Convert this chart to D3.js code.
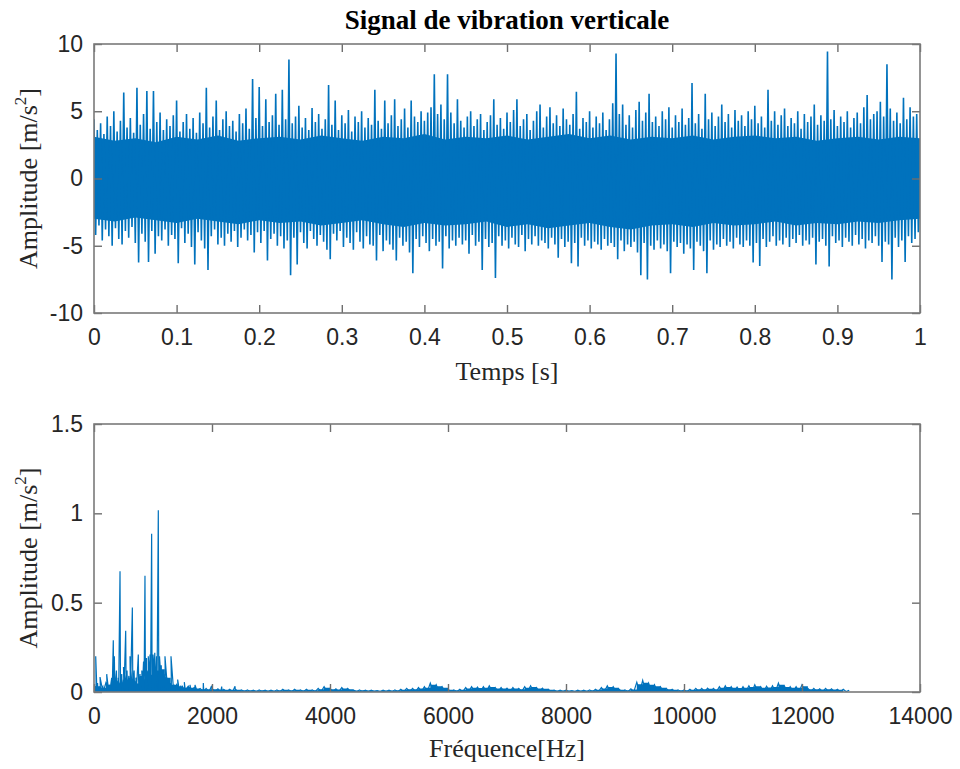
<!DOCTYPE html>
<html lang="fr">
  <head>
    <meta charset="utf-8">
    <title>Signal de vibration verticale</title>
    <script src="https://cdn.jsdelivr.net/npm/d3@7"></script>
    <style>
      body { margin: 0; background: #fff; }
      .axis line { stroke: #6e6e6e; stroke-width: 1.4; }
      .axis path { display: none; }
      .axis text {
        font-family: "Liberation Sans", Arial, sans-serif;
        font-size: 23px;
        fill: #262626;
      }
      .box { fill: none; stroke: #7a7a7a; stroke-width: 1.6; }
      .label {
        font-family: "Liberation Serif", "Times New Roman", serif;
        font-size: 26px;
        fill: #262626;
      }
      .title { font-weight: bold; font-size: 27px; fill: #000; }
    </style>
  </head>
  <body>
    <script>

    //Tick labels
    var timeTicks = [0, 0.1, 0.2, 0.3, 0.4, 0.5, 0.6, 0.7, 0.8, 0.9, 1];
    var ampTicks = [-10, -5, 0, 5, 10];
    var freqTicks = [0, 2000, 4000, 6000, 8000, 10000, 12000, 14000];
    var specTicks = [0, 0.5, 1, 1.5];

    //Time signal: peak (sigHi) and trough (sigLo) per 0.004 s slot
    var binWidth = 0.004;
    var sigHi = [
      4.4, 3.6, 4.1, 3.3, 4.6, 3.9, 5.0, 3.5, 4.3, 6.4,
      3.8, 4.5, 3.4, 6.75, 4.0, 4.8, 6.5, 3.7, 6.5, 4.2,
      4.9, 3.6, 4.4, 3.9, 4.7, 5.8, 3.5, 4.2, 4.8, 3.7,
      4.5, 3.4, 4.9, 4.1, 6.75, 3.8, 4.6, 5.8, 3.6, 4.4,
      5.0, 3.9, 4.3, 3.5, 4.8, 4.1, 5.2, 3.7, 7.4, 4.5,
      6.8, 3.9, 5.9, 4.2, 4.7, 6.3, 4.0, 6.6, 4.4, 8.85,
      4.1, 4.6, 5.4, 3.8, 4.5, 3.6, 5.25, 4.2, 4.8, 3.7,
      4.4, 6.95, 4.0, 5.8, 3.6, 4.7, 4.1, 5.1, 3.5, 4.6,
      4.2, 5.0, 3.8, 4.5, 4.0, 6.6, 4.3, 3.7, 5.8, 4.1,
      4.7, 5.9, 3.9, 4.4, 5.2, 3.8, 5.8, 4.6, 4.2, 5.0,
      4.3, 4.9, 5.3, 7.75, 4.8, 5.5, 4.4, 7.75, 4.9, 4.1,
      5.9, 4.3, 3.8, 4.6, 5.0, 3.9, 4.4, 4.8, 3.6, 4.2,
      4.7, 5.9, 4.0, 4.5, 3.7, 4.9, 4.2, 5.1, 5.9, 3.9,
      4.4, 4.8, 3.6, 4.3, 5.0, 5.5, 3.8, 4.6, 5.3, 4.1,
      4.7, 3.9, 5.2, 4.4, 4.0, 4.8, 6.45, 3.7, 4.5, 4.2,
      5.0, 3.8, 4.6, 4.1, 4.9, 3.6, 4.4, 5.6, 9.3, 4.8,
      5.5, 4.0, 4.7, 3.8, 5.1, 5.7, 4.3, 4.9, 6.3, 4.2,
      4.6, 3.9, 5.0, 4.4, 5.3, 3.8, 4.7, 4.2, 5.2, 4.0,
      4.5, 7.1, 4.1, 4.8, 3.7, 6.3, 4.4, 4.9, 3.9, 4.6,
      5.5, 4.2, 4.8, 3.8, 5.1, 4.3, 4.7, 3.9, 5.0, 4.4,
      5.4, 4.1, 4.6, 3.8, 6.6, 4.3, 5.0, 4.0, 4.7, 5.2,
      3.9, 4.5, 4.1, 5.0, 3.7, 4.8, 4.2, 4.6, 5.5, 4.0,
      4.7, 4.3, 9.45, 4.4, 5.1, 3.9, 4.6, 4.2, 5.0, 3.8,
      4.5, 4.9, 4.1, 5.3, 6.2, 4.4, 4.8, 5.0, 5.7, 4.6,
      8.5, 5.2, 4.3, 4.9, 4.1, 6.0, 4.4, 5.3, 4.6, 4.8
    ];
    var sigLo = [
      -4.2, -3.5, -4.6, -3.8, -4.3, -5.0, -3.7, -4.5, -4.9, -3.9,
      -4.4, -3.6, -4.8, -6.25, -4.1, -4.7, -6.2, -3.9, -5.6, -4.3,
      -4.6, -3.8, -5.0, -4.2, -4.5, -6.3, -3.7, -4.8, -4.1, -5.1,
      -6.4, -4.0, -4.6, -5.2, -6.8, -4.3, -3.8, -4.9, -4.4, -5.0,
      -4.1, -4.7, -3.9, -5.1, -4.4, -3.8, -4.6, -4.2, -5.5, -4.0,
      -4.8, -3.9, -6.1, -4.5, -4.1, -5.0, -4.3, -5.2, -4.6, -7.2,
      -4.4, -6.4, -4.0, -4.8, -5.2, -3.9, -4.5, -5.0, -4.2, -4.7,
      -5.3, -6.0, -4.1, -4.6, -3.9, -5.1, -4.4, -4.8, -5.3, -4.0,
      -4.7, -5.2, -4.3, -4.9, -5.0, -6.1, -4.2, -5.4, -4.6, -4.9,
      -5.3, -6.1, -4.4, -5.0, -4.7, -5.5, -7.05, -4.5, -5.1, -4.3,
      -4.8, -5.4, -4.5, -5.0, -4.7, -6.7, -4.3, -5.2, -4.6, -5.0,
      -4.4, -4.9, -4.6, -5.6, -4.2, -5.0, -4.7, -6.8, -4.5, -5.1,
      -4.8, -7.4, -4.3, -5.0, -4.6, -5.2, -4.4, -4.9, -5.1, -4.2,
      -5.4, -4.5, -4.9, -4.3, -5.0, -4.6, -4.8, -5.2, -4.4, -4.9,
      -5.9, -4.5, -5.1, -4.7, -6.3, -4.8, -6.55, -4.4, -5.0, -4.6,
      -5.2, -4.7, -4.9, -5.3, -4.5, -5.0, -4.8, -5.1, -6.0, -4.6,
      -5.4, -4.9, -5.1, -4.7, -5.5, -7.2, -4.8, -7.5, -5.0, -5.3,
      -4.6, -5.2, -4.9, -5.4, -7.05, -4.7, -5.1, -4.8, -5.6, -4.9,
      -5.2, -6.8, -4.7, -5.0, -5.4, -7.05, -4.6, -5.3, -4.9, -5.1,
      -4.5, -5.0, -4.7, -5.2, -4.4, -4.9, -5.1, -4.6, -5.0, -6.25,
      -4.8, -6.5, -4.5, -5.1, -4.7, -4.3, -5.0, -4.6, -4.9, -4.4,
      -5.1, -4.5, -4.8, -4.2, -5.0, -4.6, -4.9, -4.4, -6.4, -4.7,
      -4.5, -5.0, -6.55, -4.3, -4.8, -4.6, -5.1, -4.4, -4.7, -5.0,
      -4.2, -4.9, -4.5, -5.2, -4.6, -4.8, -4.3, -5.0, -6.2, -4.7,
      -4.9, -7.5, -4.4, -5.1, -4.6, -6.2, -4.3, -4.8, -4.5, -4.0
    ];

    //Time signal: edges of the solid dense band, every 0.025 s
    var coreStep = 0.025;
    var coreHi = [3.1, 2.8, 3.0, 2.7, 3.1, 2.9, 3.2, 2.8, 3.0, 3.1,
      2.9, 3.2, 3.0, 2.8, 3.1, 3.0, 3.3, 2.9, 3.1, 3.0,
      3.2, 2.9, 3.1, 3.3, 3.0, 3.2, 2.9, 3.1, 3.0, 3.2,
      2.9, 3.1, 3.2, 3.0, 3.1, 2.8, 3.0, 3.1, 2.9, 3.1, 3.0];
    var coreLo = [-3.0, -3.2, -2.9, -3.1, -3.3, -3.0, -3.2, -3.4, -3.1, -3.3,
      -3.2, -3.5, -3.3, -3.1, -3.4, -3.6, -3.3, -3.5, -3.4, -3.2,
      -3.6, -3.4, -3.7, -3.5, -3.3, -3.6, -3.8, -3.5, -3.4, -3.6,
      -3.3, -3.5, -3.4, -3.2, -3.5, -3.3, -3.4, -3.2, -3.3, -3.1, -3.0];

    //Spectrum: discrete lines below 2.5 kHz
    var peakFreq = [29, 60, 102, 150, 215, 260, 300, 327, 345, 380,
      410, 441, 470, 500, 537, 560, 590, 610, 650, 680,
      710, 751, 780, 810, 840, 864, 890, 920, 950, 977,
      1000, 1030, 1060, 1090, 1110, 1140, 1170, 1203, 1240, 1270,
      1305, 1360, 1418, 1470, 1531, 1580, 1627, 1712, 1853, 1994,
      2164, 2390];
    var peakAmp = [0.20, 0.05, 0.084, 0.03, 0.10, 0.04, 0.06, 0.29, 0.20, 0.12,
      0.08, 0.676, 0.10, 0.14, 0.343, 0.12, 0.09, 0.20, 0.473, 0.12,
      0.08, 0.21, 0.10, 0.12, 0.17, 0.65, 0.19, 0.20, 0.21, 0.886,
      0.21, 0.22, 0.20, 1.017, 0.20, 0.15, 0.10, 0.20, 0.08, 0.06,
      0.20, 0.04, 0.07, 0.03, 0.055, 0.025, 0.04, 0.04, 0.05, 0.035,
      0.03, 0.032];

    //Spectrum: noise floor per 100 Hz band, 0 - 12800 Hz
    var floorStep = 100;
    var floorAmp = [
      0.04, 0.03, 0.05, 0.08, 0.06, 0.07, 0.08, 0.06, 0.09, 0.12, 0.15, 0.16, 0.10,
      0.05, 0.04, 0.03, 0.03, 0.025, 0.02, 0.02, 0.02, 0.018, 0.015, 0.015, 0.015, 0.012,
      0.012, 0.01, 0.012, 0.01, 0.01, 0.012,
      0.015, 0.012, 0.015, 0.012, 0.015, 0.012, 0.02,
      0.03, 0.02, 0.018, 0.025, 0.02,
      0.01, 0.012, 0.01, 0.01, 0.008, 0.01, 0.01, 0.012, 0.015,
      0.02, 0.02, 0.025, 0.03,
      0.05, 0.04, 0.03,
      0.015, 0.012, 0.015,
      0.025, 0.03, 0.028, 0.03, 0.035,
      0.025, 0.025, 0.022, 0.025, 0.02,
      0.03, 0.035, 0.025, 0.022,
      0.015, 0.01, 0.01, 0.01, 0.008, 0.01, 0.01, 0.012, 0.015,
      0.025, 0.035, 0.03,
      0.015, 0.012, 0.018,
      0.055, 0.065, 0.05, 0.04,
      0.03, 0.02, 0.015,
      0.012, 0.012, 0.015,
      0.02, 0.02, 0.022, 0.02,
      0.03, 0.035, 0.03,
      0.028, 0.03, 0.035, 0.04, 0.03, 0.032, 0.035,
      0.05, 0.035, 0.03, 0.03, 0.04,
      0.02, 0.02, 0.018, 0.02, 0.018, 0.015, 0.015
    ];

    var w = 960;
    var h = 769;
    var left = 94, right = 920;
    var top1 = 44, bottom1 = 313;
    var top2 = 424, bottom2 = 692;
    var tick = 8;
    var blue = "#0072bd";

    var svg = d3.select("body")
      .append("svg")
      .attr("width", w)
      .attr("height", h);

    var plain = function(d) { return String(d); };

    //Scales
    var xTime = d3.scaleLinear().domain([0, 1]).range([left, right]);
    var yAmp = d3.scaleLinear().domain([-10, 10]).range([bottom1, top1]);
    var xFreq = d3.scaleLinear().domain([0, 14000]).range([left, right]);
    var ySpec = d3.scaleLinear().domain([0, 1.5]).range([bottom2, top2]);

    //Clip paths
    var defs = svg.append("defs");
    defs.append("clipPath").attr("id", "clip1")
      .append("rect").attr("x", left).attr("y", top1)
      .attr("width", right - left).attr("height", bottom1 - top1);
    defs.append("clipPath").attr("id", "clip2")
      .append("rect").attr("x", left).attr("y", top2)
      .attr("width", right - left).attr("height", bottom2 - top2);

    //Solid band of the time signal
    var coreArea = d3.area()
      .x(function(d, k) { return xTime(k * coreStep); })
      .y0(function(d, k) { return yAmp(coreLo[k]); })
      .y1(function(d) { return yAmp(d); });

    svg.append("path")
      .datum(coreHi)
      .attr("clip-path", "url(#clip1)")
      .attr("fill", blue)
      .attr("d", coreArea);

    //Time signal zigzag
    var sigPoints = [];
    for (var i = 0; i < sigHi.length; i++) {
      sigPoints.push([i * binWidth, sigHi[i]]);
      sigPoints.push([i * binWidth + binWidth / 2, sigLo[i]]);
    }
    sigPoints.push([1, 0]);

    var line1 = d3.line()
      .x(function(d) { return xTime(d[0]); })
      .y(function(d) { return yAmp(d[1]); });

    svg.append("path")
      .datum(sigPoints)
      .attr("clip-path", "url(#clip1)")
      .attr("fill", "none")
      .attr("stroke", blue)
      .attr("stroke-width", 1.6)
      .attr("d", line1);

    //Spectrum noise floor
    var floorArea = d3.area()
      .curve(d3.curveStepAfter)
      .x(function(d, k) { return xFreq(k * floorStep); })
      .y0(ySpec(0))
      .y1(function(d) { return ySpec(d * 0.8); });

    svg.append("path")
      .datum(floorAmp)
      .attr("clip-path", "url(#clip2)")
      .attr("fill", blue)
      .attr("d", floorArea);

    //Spectrum lines
    var events = [];
    floorAmp.forEach(function(v, j) {
      events.push({ f: j * floorStep, v: v, back: floorStep / 2 });
    });
    peakFreq.forEach(function(f, j) {
      events.push({ f: f, v: peakAmp[j], back: 8 });
    });
    events.sort(function(a, b) { return a.f - b.f; });

    var specPoints = [[0, 0.002]];
    events.forEach(function(e) {
      specPoints.push([e.f, e.v]);
      specPoints.push([e.f + e.back, 0.002]);
    });
    specPoints.push([12800, 0.01]);

    var line2 = d3.line()
      .x(function(d) { return xFreq(d[0]); })
      .y(function(d) { return ySpec(d[1]); });

    svg.append("path")
      .datum(specPoints)
      .attr("clip-path", "url(#clip2)")
      .attr("fill", "none")
      .attr("stroke", blue)
      .attr("stroke-width", 1.2)
      .attr("d", line2);

    //Axes with inward ticks on all four sides
    function drawAxes(xs, ys, xt, yt, y0, y1) {
      svg.append("g").attr("class", "axis")
        .attr("transform", "translate(0," + y1 + ")")
        .call(d3.axisBottom(xs).tickValues(xt).tickFormat(plain)
          .tickSizeInner(-tick).tickSizeOuter(0).tickPadding(16));
      svg.append("g").attr("class", "axis")
        .attr("transform", "translate(0," + y0 + ")")
        .call(d3.axisTop(xs).tickValues(xt).tickFormat("")
          .tickSizeInner(-tick).tickSizeOuter(0));
      svg.append("g").attr("class", "axis")
        .attr("transform", "translate(" + left + ",0)")
        .call(d3.axisLeft(ys).tickValues(yt).tickFormat(plain)
          .tickSizeInner(-tick).tickSizeOuter(0).tickPadding(11));
      svg.append("g").attr("class", "axis")
        .attr("transform", "translate(" + right + ",0)")
        .call(d3.axisRight(ys).tickValues(yt).tickFormat("")
          .tickSizeInner(-tick).tickSizeOuter(0));
      svg.append("rect").attr("class", "box")
        .attr("x", left).attr("y", y0)
        .attr("width", right - left).attr("height", y1 - y0);
    }

    drawAxes(xTime, yAmp, timeTicks, ampTicks, top1, bottom1);
    drawAxes(xFreq, ySpec, freqTicks, specTicks, top2, bottom2);

    //Title and labels
    svg.append("text")
      .attr("class", "label title")
      .attr("x", (left + right) / 2)
      .attr("y", 29)
      .attr("text-anchor", "middle")
      .text("Signal de vibration verticale");

    svg.append("text")
      .attr("class", "label")
      .attr("x", (left + right) / 2)
      .attr("y", 380)
      .attr("text-anchor", "middle")
      .text("Temps [s]");

    svg.append("text")
      .attr("class", "label")
      .attr("x", (left + right) / 2)
      .attr("y", 757)
      .attr("text-anchor", "middle")
      .text("Fréquence[Hz]");

    function yLabel(cy) {
      var t = svg.append("text")
        .attr("class", "label")
        .attr("text-anchor", "middle")
        .attr("transform", "translate(37," + cy + ") rotate(-90)");
      t.append("tspan").text("Amplitude [m/s");
      t.append("tspan").attr("dy", -11).style("font-size", "17px").text("2");
      t.append("tspan").attr("dy", 11).text("]");
    }
    yLabel((top1 + bottom1) / 2);
    yLabel((top2 + bottom2) / 2);

    </script>
  </body>
</html>
